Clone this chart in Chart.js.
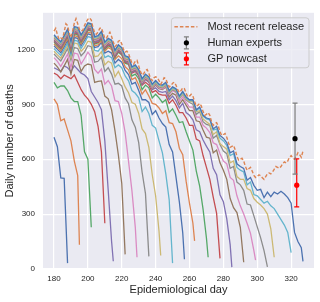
<!DOCTYPE html>
<html>
<head>
<meta charset="utf-8">
<script src="https://cdn.jsdelivr.net/npm/chart.js@4/dist/chart.umd.min.js"></script>
<style>
  html, body { margin: 0; padding: 0; background: #ffffff; }
  canvas { display: block; }
</style>
</head>
<body>
<canvas id="chart" width="320" height="302"></canvas>
<script>
// most recent release, one value per day from firstDay
const firstDay = 180;
const releaseLabel = "Most recent release";
const recentRelease = [
  1300, 1315, 1280, 1255, 1262, 1258, 1295, 1340, 1330, 1290,
  1265, 1300, 1345, 1368, 1340, 1310, 1300, 1305, 1330, 1350,
  1365, 1372, 1360, 1320, 1290, 1283, 1295, 1315, 1318, 1290,
  1260, 1262, 1280, 1294, 1270, 1240, 1215, 1225, 1245, 1250,
  1230, 1200, 1185, 1190, 1178, 1150, 1125, 1120, 1135, 1140,
  1110, 1080, 1060, 1068, 1085, 1090, 1070, 1040, 1030, 1045,
  1050, 1045, 1030, 1010, 1025, 1045, 1040, 1015, 995, 1000,
  1015, 1020, 1005, 980, 965, 975, 990, 985, 960, 940,
  945, 955, 945, 915, 890, 895, 905, 890, 860, 840,
  845, 855, 840, 805, 785, 795, 800, 780, 750, 730,
  735, 740, 720, 690, 665, 670, 675, 650, 615, 595,
  600, 605, 590, 560, 540, 548, 555, 535, 512, 500,
  505, 515, 510, 498, 490, 505, 520, 525, 520, 530,
  545, 560, 555, 550, 560, 575, 585, 580, 590, 610,
  620, 605, 600, 615, 635, 625, 610, 645
];

// earlier releases: every 2nd day from firstDay, last value is on the end day
const vintageStep = 2;
const vintageEnds = [188, 195, 202, 210, 215, 222, 229, 236, 243, 250, 257, 263, 271, 278, 285, 292, 299, 306, 310, 320, 327];
const vintageValues = [
  [720, 668, 498, 495, 32],
  [930, 900, 810, 820, 760, 700, 590, 510, 133],
  [1020, 990, 1000, 1000, 975, 935, 915, 915, 840, 640, 600, 228],
  [1070, 1060, 1040, 1060, 1050, 1040, 1060, 1020, 980, 950, 930, 900, 860, 780, 640, 250],
  [1100, 1090, 1080, 1110, 1100, 1080, 1110, 1090, 1070, 1060, 1040, 970, 940, 910, 870, 700, 430, 150, 42],
  [1125, 1105, 1077, 1110, 1145, 1065, 1145, 1140, 1080, 1110, 1120, 1115, 1020, 1025, 1028, 945, 930, 870, 755, 623, 467, 80],
  [1155, 1135, 1107, 1140, 1175, 1100, 1180, 1175, 1120, 1150, 1185, 1160, 1090, 1070, 1093, 1010, 1030, 1000, 920, 915, 850, 745, 589, 428, 227, 64],
  [1175, 1155, 1137, 1170, 1205, 1140, 1210, 1205, 1165, 1185, 1220, 1215, 1130, 1135, 1158, 1080, 1100, 1065, 1010, 1015, 1000, 935, 903, 815, 775, 690, 530, 412, 69],
  [1190, 1170, 1152, 1185, 1220, 1155, 1235, 1230, 1190, 1210, 1245, 1240, 1160, 1165, 1188, 1115, 1135, 1125, 1050, 1080, 1040, 995, 963, 910, 900, 850, 765, 740, 665, 515, 399, 206, 74],
  [1205, 1185, 1167, 1200, 1235, 1170, 1250, 1245, 1205, 1235, 1270, 1265, 1195, 1190, 1213, 1155, 1165, 1155, 1100, 1115, 1100, 1055, 1028, 975, 960, 935, 860, 885, 850, 785, 770, 700, 635, 520, 378, 32],
  [1220, 1200, 1182, 1215, 1250, 1185, 1265, 1260, 1220, 1250, 1285, 1280, 1210, 1215, 1238, 1180, 1190, 1180, 1125, 1145, 1130, 1085, 1063, 1010, 1020, 975, 925, 925, 910, 845, 865, 825, 795, 775, 680, 640, 503, 367, 198, 53],
  [1230, 1210, 1192, 1225, 1260, 1195, 1275, 1270, 1230, 1260, 1295, 1290, 1220, 1225, 1248, 1190, 1210, 1200, 1145, 1165, 1150, 1105, 1088, 1035, 1045, 1005, 955, 980, 945, 905, 900, 880, 850, 865, 800, 795, 750, 660, 625, 480, 359, 250, 154],
  [1240, 1220, 1202, 1235, 1270, 1205, 1285, 1280, 1240, 1270, 1305, 1300, 1230, 1235, 1258, 1200, 1220, 1210, 1155, 1185, 1170, 1125, 1118, 1055, 1065, 1040, 980, 1005, 990, 935, 955, 935, 910, 925, 855, 875, 840, 800, 805, 750, 700, 650, 535, 453, 327, 169, 64],
  [1245, 1225, 1207, 1240, 1275, 1210, 1290, 1285, 1245, 1275, 1310, 1305, 1235, 1240, 1263, 1205, 1225, 1215, 1160, 1190, 1175, 1130, 1123, 1070, 1080, 1055, 1005, 1020, 1005, 965, 975, 955, 950, 950, 905, 925, 895, 855, 855, 825, 785, 785, 710, 700, 620, 555, 490, 393, 304, 58],
  [1250, 1230, 1212, 1245, 1280, 1215, 1295, 1290, 1250, 1280, 1315, 1310, 1240, 1245, 1268, 1210, 1230, 1220, 1165, 1195, 1180, 1135, 1128, 1075, 1085, 1060, 1010, 1035, 1020, 980, 990, 970, 965, 970, 925, 945, 920, 880, 905, 855, 840, 815, 760, 750, 705, 670, 640, 550, 515, 405, 368, 274, 133, 10],
  [1255, 1235, 1217, 1250, 1285, 1220, 1300, 1295, 1255, 1285, 1320, 1315, 1245, 1250, 1273, 1215, 1235, 1225, 1170, 1200, 1185, 1140, 1133, 1080, 1090, 1065, 1015, 1040, 1025, 985, 1005, 985, 980, 995, 940, 960, 950, 900, 925, 895, 865, 865, 810, 805, 760, 720, 715, 635, 650, 580, 540, 490, 385, 335, 308, 228, 37],
  [1260, 1240, 1222, 1255, 1290, 1225, 1305, 1300, 1260, 1290, 1325, 1320, 1250, 1255, 1278, 1220, 1240, 1230, 1175, 1205, 1190, 1145, 1138, 1085, 1095, 1070, 1020, 1045, 1030, 990, 1010, 990, 985, 1000, 955, 975, 965, 915, 940, 910, 885, 885, 830, 830, 785, 770, 745, 690, 680, 630, 590, 575, 500, 485, 400, 345, 300, 250, 195, 100, 48],
  [1265, 1245, 1227, 1260, 1295, 1230, 1310, 1305, 1265, 1295, 1330, 1325, 1255, 1260, 1283, 1225, 1245, 1235, 1180, 1210, 1195, 1150, 1143, 1090, 1100, 1075, 1025, 1050, 1035, 995, 1015, 995, 990, 1005, 960, 980, 970, 930, 955, 925, 910, 900, 845, 860, 805, 790, 785, 715, 730, 680, 645, 630, 550, 560, 475, 460, 430, 355, 350, 290, 230, 170, 100, 11],
  [1270, 1250, 1232, 1265, 1300, 1235, 1315, 1310, 1270, 1300, 1335, 1330, 1260, 1265, 1288, 1230, 1250, 1240, 1185, 1215, 1200, 1155, 1148, 1095, 1105, 1080, 1030, 1055, 1040, 1000, 1020, 1000, 995, 1010, 965, 985, 975, 935, 960, 930, 915, 915, 860, 865, 820, 805, 790, 735, 750, 685, 670, 655, 580, 590, 505, 490, 490, 440, 430, 385, 365, 350, 330, 300, 220, 64],
  [1275, 1255, 1237, 1270, 1305, 1240, 1320, 1315, 1275, 1305, 1340, 1335, 1265, 1270, 1293, 1235, 1255, 1245, 1190, 1220, 1205, 1160, 1153, 1100, 1110, 1085, 1035, 1060, 1045, 1005, 1025, 1005, 1000, 1015, 970, 990, 980, 940, 965, 935, 920, 920, 865, 880, 835, 820, 815, 760, 765, 715, 700, 675, 620, 630, 555, 540, 530, 460, 475, 407, 400, 380, 360, 370, 345, 330, 300, 270, 240, 200, 90],
  [1280, 1260, 1242, 1275, 1310, 1245, 1325, 1320, 1280, 1310, 1345, 1340, 1270, 1275, 1298, 1240, 1260, 1250, 1195, 1225, 1210, 1165, 1158, 1105, 1115, 1090, 1040, 1065, 1050, 1010, 1030, 1010, 1005, 1020, 975, 995, 985, 945, 970, 940, 925, 925, 870, 885, 840, 825, 820, 765, 780, 730, 715, 690, 635, 645, 575, 560, 550, 485, 500, 457, 430, 435, 390, 420, 395, 420, 410, 425, 410, 390, 360, 200, 150, 117, 42]
];

// nowcasts with intervals
const estimateNames = ["Human experts", "GP nowcast"];
const estimateDays = [322.3, 323.3];
const estimateValues = [712, 458];
const estimateLow = [518, 340];
const estimateHigh = [906, 602];

const xTicks = [180, 200, 220, 240, 260, 280, 300, 320];
const yTicks = [0, 300, 600, 900, 1200];

const palette = ["#4C72B0", "#DD8452", "#55A868", "#C44E52", "#8172B3", "#937860", "#DA8BC3", "#8C8C8C", "#CCB974", "#64B5CD"];
const estimateColors = ["#000000", "#ff0000"];
const estimateBarColors = ["#7f7f7f", "#ff0000"];
const textColor = "#262626";
const fontFamily = '"Liberation Sans", Arial, sans-serif';

Chart.defaults.font.family = fontFamily;
Chart.defaults.color = textColor;

const datasets = [];
estimateNames.forEach((name, i) => {
  datasets.push({
    type: "scatter",
    label: name,
    data: [{ x: estimateDays[i], y: estimateValues[i] }],
    errorLow: [estimateLow[i]],
    errorHigh: [estimateHigh[i]],
    barColor: estimateBarColors[i],
    backgroundColor: estimateColors[i],
    borderWidth: 0,
    pointRadius: 2.6,
    order: 0,
  });
});
datasets.push({
  label: releaseLabel,
  data: recentRelease.map((v, i) => ({ x: firstDay + i, y: v })),
  borderColor: palette[1],
  borderWidth: 1.4,
  borderDash: [3.5, 2],
  pointRadius: 0,
  order: 1,
});
vintageValues.forEach((vals, k) => {
  datasets.push({
    label: "release " + vintageEnds[k],
    data: vals.map((v, i) => ({ x: i === vals.length - 1 ? vintageEnds[k] : firstDay + vintageStep * i, y: v })),
    borderColor: palette[k % palette.length],
    borderWidth: 1.3,
    pointRadius: 0,
    order: 50 - k,
  });
});

const plotBackground = {
  id: "plotBackground",
  beforeDraw(chart) {
    const { ctx, chartArea } = chart;
    ctx.save();
    ctx.fillStyle = "#EAEAF2";
    ctx.fillRect(chartArea.left, chartArea.top, chartArea.right - chartArea.left, chartArea.bottom - chartArea.top);
    ctx.restore();
  },
};

const errorBars = {
  id: "errorBars",
  beforeDatasetDraw(chart, args) {
    const ds = chart.data.datasets[args.index];
    if (!ds.errorLow) return;
    const { ctx, scales } = chart;
    ctx.save();
    ctx.strokeStyle = ds.barColor;
    ctx.lineWidth = 1.2;
    ds.data.forEach((p, i) => {
      const px = scales.x.getPixelForValue(p.x);
      const lo = scales.y.getPixelForValue(ds.errorLow[i]);
      const hi = scales.y.getPixelForValue(ds.errorHigh[i]);
      ctx.beginPath();
      ctx.moveTo(px, lo); ctx.lineTo(px, hi);
      ctx.moveTo(px - 2.5, lo); ctx.lineTo(px + 2.5, lo);
      ctx.moveTo(px - 2.5, hi); ctx.lineTo(px + 2.5, hi);
      ctx.stroke();
    });
    ctx.restore();
  },
};

const legendBox = {
  id: "legendBox",
  afterDraw(chart) {
    const { ctx, chartArea } = chart;
    ctx.save();
    ctx.font = "11px " + fontFamily;
    const labels = [releaseLabel, ...estimateNames];
    const textW = Math.max(...labels.map((t) => ctx.measureText(t).width));
    const w = 36 + textW + 5;
    const h = 50;
    const x0 = chartArea.right - 5 - w;
    const y0 = chartArea.top + 5;
    ctx.beginPath();
    ctx.roundRect(x0, y0, w, h, 3);
    ctx.fillStyle = "rgba(234,234,242,0.8)";
    ctx.fill();
    ctx.strokeStyle = "#cccccc";
    ctx.lineWidth = 1;
    ctx.stroke();

    // dashed handle
    let y = y0 + 9;
    ctx.strokeStyle = palette[1];
    ctx.lineWidth = 1.4;
    ctx.setLineDash([3.5, 2]);
    ctx.beginPath();
    ctx.moveTo(x0 + 3, y);
    ctx.lineTo(x0 + 26, y);
    ctx.stroke();
    ctx.setLineDash([]);

    // error bar handles
    estimateNames.forEach((name, i) => {
      const cy = y0 + 25 + 16 * i;
      const cx = x0 + 15;
      ctx.strokeStyle = estimateBarColors[i];
      ctx.lineWidth = 1.2;
      ctx.beginPath();
      ctx.moveTo(cx, cy - 6); ctx.lineTo(cx, cy + 6);
      ctx.moveTo(cx - 2.5, cy - 6); ctx.lineTo(cx + 2.5, cy - 6);
      ctx.moveTo(cx - 2.5, cy + 6); ctx.lineTo(cx + 2.5, cy + 6);
      ctx.stroke();
      ctx.fillStyle = estimateColors[i];
      ctx.beginPath();
      ctx.arc(cx, cy, 2.6, 0, Math.PI * 2);
      ctx.fill();
    });

    ctx.fillStyle = textColor;
    ctx.textBaseline = "middle";
    ctx.textAlign = "left";
    labels.forEach((t, i) => ctx.fillText(t, x0 + 36, y0 + 9 + 16 * i));
    ctx.restore();
  },
};

new Chart(document.getElementById("chart"), {
  type: "line",
  data: { datasets },
  plugins: [plotBackground, errorBars, legendBox],
  options: {
    responsive: false,
    animation: false,
    layout: { padding: { left: 0, right: 6, top: 5, bottom: 0 } },
    plugins: {
      legend: { display: false },
      tooltip: { enabled: false },
    },
    scales: {
      x: {
        type: "linear",
        min: 173.5,
        max: 333.5,
        afterBuildTicks: (s) => { s.ticks = xTicks.map((v) => ({ value: v })); },
        afterFit: (s) => { s.height = 33; },
        grid: { color: "#ffffff", lineWidth: 1.2, drawTicks: false },
        border: { display: false },
        ticks: { padding: 5, autoSkip: false, maxRotation: 0, minRotation: 0, font: { size: 8 }, callback: (v) => String(v) },
        title: { display: true, text: "Epidemiological day", font: { size: 11 }, padding: { top: 0, bottom: 5 } },
      },
      y: {
        min: 0,
        max: 1400,
        afterBuildTicks: (s) => { s.ticks = yTicks.map((v) => ({ value: v })); },
        afterFit: (s) => { s.width = 43; },
        grid: { color: "#ffffff", lineWidth: 1.2, drawTicks: false },
        border: { display: false },
        ticks: { padding: 8, font: { size: 8 }, callback: (v) => String(v) },
        title: { display: true, text: "Daily number of deaths", font: { size: 11 }, padding: { top: 3, bottom: 0 } },
      },
    },
  },
});
</script>
</body>
</html>
